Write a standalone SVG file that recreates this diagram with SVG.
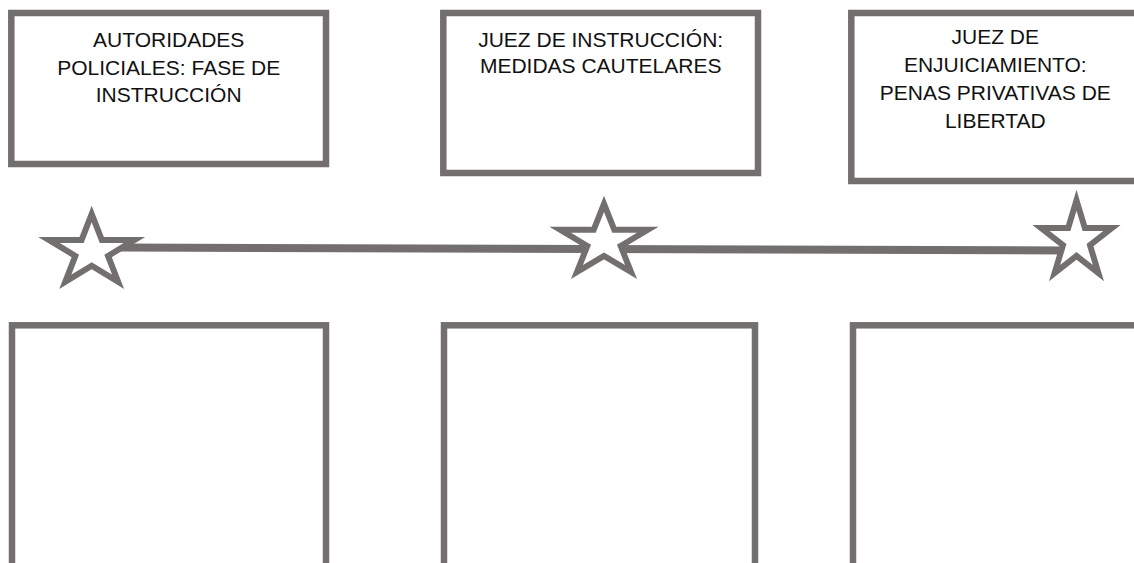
<svg xmlns="http://www.w3.org/2000/svg" width="1134" height="563" viewBox="0 0 1134 563">
<style>
.box{fill:#ffffff;stroke:#736f6f;stroke-width:6.5}
.star{fill:#ffffff;stroke:#736f6f;stroke-width:6;stroke-linejoin:miter;stroke-miterlimit:10}
.lbl{font-family:"Liberation Sans",Arial,sans-serif;font-size:21px;fill:#111111;text-anchor:middle}
</style>
<rect width="1134" height="563" fill="#ffffff"/>
<g id="connectors">
<line x1="120" y1="247.5" x2="1065" y2="250.5" stroke="#736f6f" stroke-width="8"/>
</g>
<g id="box-autoridades">
<rect class="box" x="11.3" y="13" width="314.7" height="151"/>
<text class="lbl" x="168.7" y="46.7">AUTORIDADES</text>
<text class="lbl" x="168.7" y="74.5">POLICIALES: FASE DE</text>
<text class="lbl" x="168.7" y="102.3">INSTRUCCIÓN</text>
</g>
<g id="box-juez-instruccion">
<rect class="box" x="443.3" y="13" width="314.7" height="160"/>
<text class="lbl" x="600.7" y="46.7">JUEZ DE INSTRUCCIÓN:</text>
<text class="lbl" x="600.7" y="73">MEDIDAS CAUTELARES</text>
</g>
<g id="box-juez-enjuiciamiento">
<rect class="box" x="851.3" y="13" width="288" height="168"/>
<text class="lbl" x="995.3" y="43.5">JUEZ DE</text>
<text class="lbl" x="995.3" y="71.8">ENJUICIAMIENTO:</text>
<text class="lbl" x="995.3" y="100">PENAS PRIVATIVAS DE</text>
<text class="lbl" x="995.3" y="128.3">LIBERTAD</text>
</g>
<g id="star-1">
<polygon class="star" points="91.7,214 101.8,239.9 134.5,239.9 108.05,255.9 118.15,281.8 91.7,265.8 65.25,281.8 75.35,255.9 48.9,239.9 81.6,239.9"/>
</g>
<g id="star-2">
<polygon class="star" points="604,203.8 614.3,229.85 647.75,229.85 620.7,245.95 631,272 604,255.9 577,272 587.3,245.95 560.25,229.85 593.7,229.85"/>
</g>
<g id="star-3">
<polygon class="star" points="1076.5,200.3 1084.85,228.1 1111.9,228.1 1090,245.2 1098.4,273 1076.5,255.9 1054.6,273 1063,245.2 1041.1,228.1 1068.15,228.1"/>
</g>
<g id="box-bottom-1">
<rect class="box" x="12" y="325.3" width="314" height="260"/>
</g>
<g id="box-bottom-2">
<rect class="box" x="444" y="325.3" width="311" height="260"/>
</g>
<g id="box-bottom-3">
<rect class="box" x="853" y="325.3" width="290" height="260"/>
</g>
</svg>
